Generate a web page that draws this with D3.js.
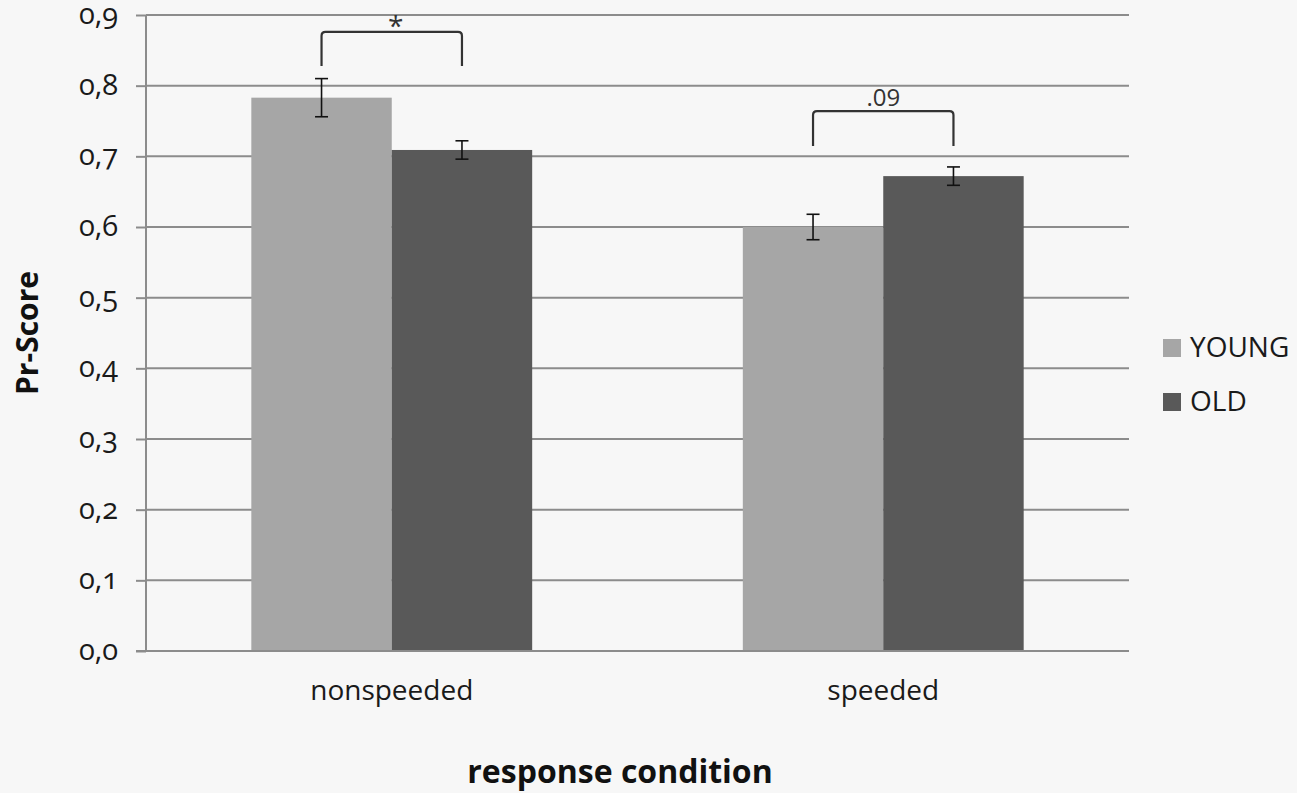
<!DOCTYPE html>
<html>
<head>
<meta charset="utf-8">
<script src="https://cdn.jsdelivr.net/npm/d3@7/dist/d3.min.js"></script>
<style>
  html, body { margin: 0; padding: 0; background: #f7f7f7; }
  svg { display: block; font-family: "Open Sans", "DejaVu Sans", sans-serif; }
  .tick text { font-variant-numeric: oldstyle-nums; }
</style>
</head>
<body>
<svg id="chart" width="1297" height="793"></svg>
<script>
// Response conditions and age groups
const categories = ["nonspeeded", "speeded"];
const groups = ["YOUNG", "OLD"];

// Mean Pr-scores per condition and their error margins
const youngMeans = [0.783, 0.600];
const oldMeans = [0.709, 0.672];
const youngErr = [0.027, 0.018];
const oldErr = [0.013, 0.013];

// Value axis ticks
const yTicks = [0, 0.1, 0.2, 0.3, 0.4, 0.5, 0.6, 0.7, 0.8, 0.9];
const yTickLabels = ["0,0", "0,1", "0,2", "0,3", "0,4", "0,5", "0,6", "0,7", "0,8", "0,9"];

// Significance brackets between the two groups in each condition
const bracketLabels = ["*", ".09"];
const bracketTop = [0.876, 0.764];
const bracketFoot = [0.828, 0.7145];

const colors = { YOUNG: "#a6a6a6", OLD: "#595959" };

const svg = d3.select("#chart");
const plotLeft = 146, plotRight = 1129, plotTop = 15, plotBottom = 651;

const y = d3.scaleLinear().domain([0, 0.9]).range([plotBottom, plotTop]);
const x = d3.scaleBand().domain(categories).range([plotLeft, plotRight]).paddingInner(0).paddingOuter(0);
const xg = d3.scaleBand().domain(groups).range([0, x.bandwidth()]).paddingInner(0).paddingOuter(0.75);

// Gridlines
svg.append("g")
  .selectAll("line")
  .data(yTicks.slice(1))
  .join("line")
  .attr("x1", plotLeft).attr("x2", plotRight)
  .attr("y1", d => y(d)).attr("y2", d => y(d))
  .attr("stroke", "#8c8c8c").attr("stroke-width", 2);

// Y axis
const yAxis = d3.axisLeft(y)
  .tickValues(yTicks)
  .tickFormat((d, i) => yTickLabels[i])
  .tickSize(10)
  .tickPadding(18);
const gy = svg.append("g").attr("transform", `translate(${plotLeft},0)`).call(yAxis);
gy.select(".domain").attr("stroke", "#8c8c8c").attr("stroke-width", 2)
  .attr("d", `M0,${plotTop}V${plotBottom}`);
gy.selectAll(".tick line").attr("stroke", "#8c8c8c").attr("stroke-width", 2);
gy.selectAll(".tick text")
  .attr("fill", "#1a1a1a")
  .attr("dy", "0.29em")
  .style("font-size", "29px")
  .style("font-family", "'Open Sans', sans-serif");

// Bars
const rows = [];
categories.forEach((c, i) => {
  rows.push({ cat: c, group: "YOUNG", value: youngMeans[i], err: youngErr[i] });
  rows.push({ cat: c, group: "OLD", value: oldMeans[i], err: oldErr[i] });
});

svg.append("g")
  .selectAll("rect")
  .data(rows)
  .join("rect")
  .attr("x", d => x(d.cat) + xg(d.group))
  .attr("y", d => y(d.value))
  .attr("width", xg.bandwidth())
  .attr("height", d => y(0) - y(d.value))
  .attr("fill", d => colors[d.group]);

// Bottom axis line
svg.append("line")
  .attr("x1", plotLeft - 10).attr("x2", plotRight)
  .attr("y1", y(0)).attr("y2", y(0))
  .attr("stroke", "#8c8c8c").attr("stroke-width", 2);

// Error bars
const eb = svg.append("g").attr("stroke", "#111").attr("stroke-width", 1.6).attr("fill", "none");
rows.forEach(d => {
  const cx = x(d.cat) + xg(d.group) + xg.bandwidth() / 2;
  const y1 = y(d.value + d.err), y2 = y(d.value - d.err);
  eb.append("line").attr("x1", cx).attr("x2", cx).attr("y1", y1).attr("y2", y2);
  eb.append("line").attr("x1", cx - 6.5).attr("x2", cx + 6.5).attr("y1", y1).attr("y2", y1);
  eb.append("line").attr("x1", cx - 6.5).attr("x2", cx + 6.5).attr("y1", y2).attr("y2", y2);
});

// X axis category labels
svg.append("g")
  .selectAll("text")
  .data(categories)
  .join("text")
  .attr("x", d => x(d) + x.bandwidth() / 2)
  .attr("y", 700)
  .attr("text-anchor", "middle")
  .attr("fill", "#1a1a1a")
  .style("font-size", "28px")
  .text(d => d);

// Significance brackets
const r = 4;
categories.forEach((c, i) => {
  const xa = x(c) + xg("YOUNG") + xg.bandwidth() / 2;
  const xb = x(c) + xg("OLD") + xg.bandwidth() / 2;
  const yt = y(bracketTop[i]), yf = y(bracketFoot[i]);
  svg.append("path")
    .attr("d", `M${xa},${yf}V${yt + r}Q${xa},${yt} ${xa + r},${yt}H${xb - r}Q${xb},${yt} ${xb},${yt + r}V${yf}`)
    .attr("fill", "none").attr("stroke", "#333").attr("stroke-width", 2.2);
  const isStar = bracketLabels[i] === "*";
  svg.append("text")
    .attr("x", (xa + xb) / 2 + (isStar ? 4 : 0))
    .attr("y", isStar ? yt + 4 : yt - 5)
    .attr("text-anchor", "middle")
    .attr("fill", "#333")
    .style("font-size", isStar ? "28px" : "24px")
    .text(bracketLabels[i]);
});

// Legend
const legend = svg.append("g");
groups.forEach((g, i) => {
  const ly = 339 + i * 54;
  legend.append("rect").attr("x", 1163).attr("y", ly).attr("width", 18).attr("height", 18).attr("fill", colors[g]);
  legend.append("text").attr("x", 1190).attr("y", ly + 18).attr("fill", "#1a1a1a")
    .style("font-size", "28px").text(g);
});

// Axis titles
svg.append("text")
  .attr("transform", `translate(38,${(plotTop + plotBottom) / 2}) rotate(-90)`)
  .attr("text-anchor", "middle")
  .attr("fill", "#111")
  .style("font-size", "30px").style("font-weight", "bold")
  .text("Pr-Score");

svg.append("text")
  .attr("x", 620).attr("y", 783)
  .attr("text-anchor", "middle")
  .attr("fill", "#111")
  .style("font-size", "32px").style("font-weight", "bold")
  .text("response condition");
</script>
</body>
</html>
